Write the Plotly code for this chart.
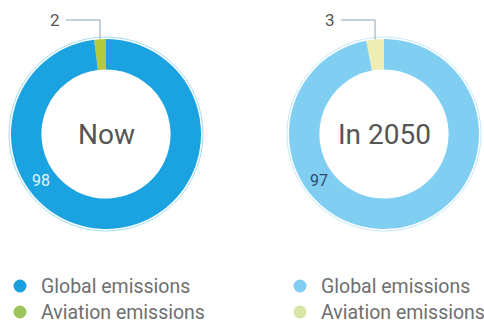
import math
import plotly.graph_objects as go

# Share of CO2 emissions, now and projected for 2050 (percent)
labels = ["Aviation emissions", "Global emissions"]
legend_labels = ["Global emissions", "Aviation emissions"]
panel_titles = ["Now", "In 2050"]
now_values = [2, 98]
future_values = [3, 97]

W, H = 484, 326
FONT = "Roboto, sans-serif"

panels = [
    dict(values=now_values, title=panel_titles[0], cx=106, cy=134, r=95,
         colors=["#b3cb3a", "#1aa2e1"], outline="#9fdcf5",
         big_color="#e3f6fe", legend_x=20),
    dict(values=future_values, title=panel_titles[1], cx=384, cy=134, r=95,
         colors=["#eeedb4", "#80cff3"], outline="#c2e9fa",
         big_color="#2d4a6b", legend_x=300),
]
legend_colors = [["#1a9fdf", "#9fc45c"], ["#80cdf2", "#d9e7a6"]]


def px(x):
    return x / W


def py(y):
    return 1 - y / H


def label(x, y, text, size, color, xanchor="center"):
    return dict(x=px(x), y=py(y), xref="paper", yref="paper", text=text,
                showarrow=False, xanchor=xanchor, yanchor="middle",
                font=dict(family=FONT, size=size, color=color))


fig = go.Figure()
shapes = []
annotations = []

for i, p in enumerate(panels):
    cx, cy, r = p["cx"], p["cy"], p["r"]
    fig.add_trace(go.Pie(
        labels=labels,
        values=p["values"],
        hole=0.68,
        sort=False,
        direction="clockwise",
        rotation=-360 * p["values"][0] / sum(p["values"]),
        marker=dict(colors=p["colors"], line=dict(width=0)),
        textinfo="none",
        hoverinfo="label+value",
        showlegend=False,
        domain=dict(x=[px(cx - r), px(cx + r)], y=[py(cy + r), py(cy - r)]),
    ))

    # thin outer rim around the ring
    rr = r + 2
    shapes.append(dict(type="circle", xref="paper", yref="paper",
                       x0=px(cx - rr), x1=px(cx + rr), y0=py(cy + rr), y1=py(cy - rr),
                       line=dict(color=p["outline"], width=1)))

    # centre title
    annotations.append(label(cx, cy, p["title"], 28, "#555555"))

    total = sum(p["values"])
    small, big = p["values"]
    # small slice: leader line from its mid angle up to the value label
    mid = math.radians(90 + 360 * small / total / 2)
    lx = cx + r * math.cos(mid)
    ly = cy - r * math.sin(mid)
    top_y = 20
    shapes.append(dict(type="path", xref="paper", yref="paper",
                       path=f"M {px(lx)},{py(ly)} L {px(lx)},{py(top_y)} L {px(lx - 34)},{py(top_y)}",
                       line=dict(color="#8fa4b3", width=1)))
    annotations.append(label(lx - 38, top_y, str(small), 17, "#555555", xanchor="right"))

    # large slice value inside the ring, lower left
    ang = math.radians(216)
    rm = r * 0.84
    annotations.append(label(cx + rm * math.cos(ang), cy - rm * math.sin(ang),
                             str(big), 16, p["big_color"]))

    # legend entries
    for j, name in enumerate(legend_labels):
        ly_ = 286 + 26 * j
        mx = p["legend_x"]
        shapes.append(dict(type="circle", xref="paper", yref="paper",
                           x0=px(mx - 6.5), x1=px(mx + 6.5), y0=py(ly_ + 6.5), y1=py(ly_ - 6.5),
                           fillcolor=legend_colors[i][j], line=dict(width=0)))
        annotations.append(label(mx + 19, ly_, name, 19.5, "#6f6f6f", xanchor="left"))

fig.update_layout(
    width=W, height=H,
    margin=dict(l=0, r=0, t=0, b=0),
    paper_bgcolor="white",
    plot_bgcolor="white",
    shapes=shapes,
    annotations=annotations,
)

fig.write_html("out.html")
